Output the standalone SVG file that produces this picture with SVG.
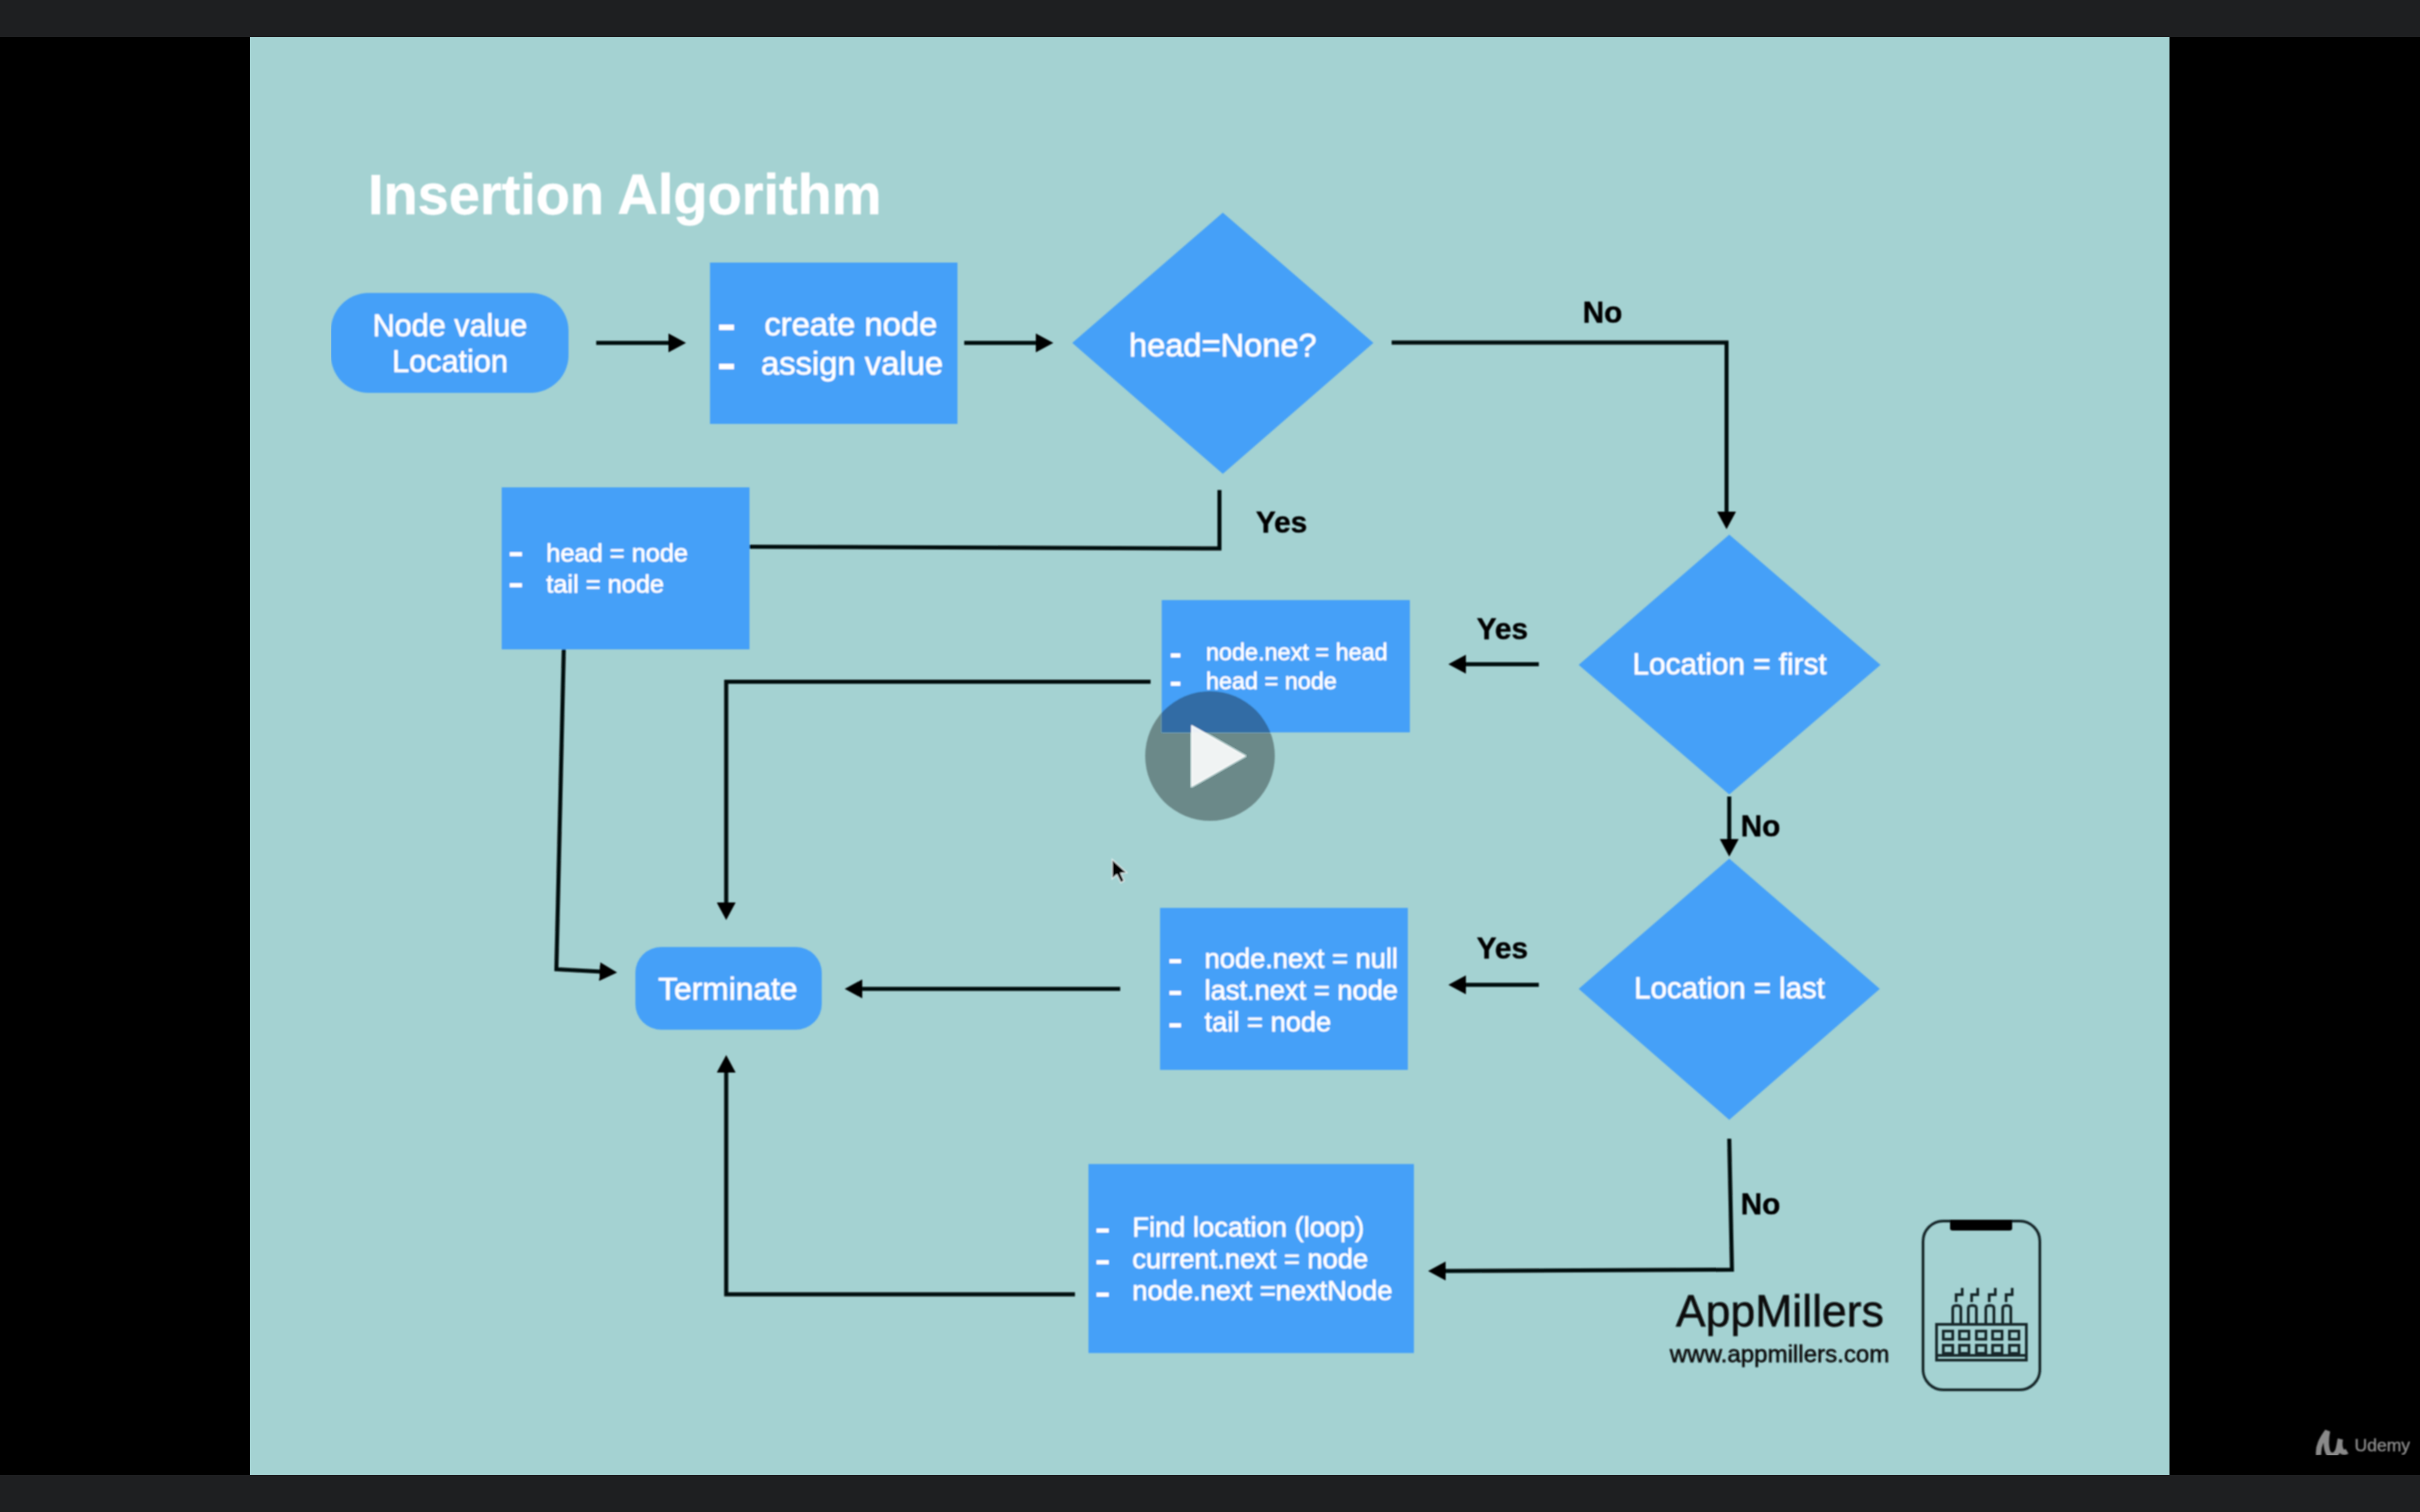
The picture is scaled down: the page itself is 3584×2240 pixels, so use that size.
<svg xmlns="http://www.w3.org/2000/svg" width="3584" height="2240" viewBox="0 0 3584 2240">
<style>
text{font-family:"Liberation Sans",Arial,sans-serif}
.b{fill:#45a0f8}
.w{fill:#fff;stroke:#fff;stroke-width:.8}
.m{text-anchor:middle}
.k{fill:#000;stroke:#000;stroke-width:.6;font-weight:700;font-size:44px}
.c{fill:none;stroke:#050a0a;stroke-width:6}
.h{fill:#fff;stroke:#fff;stroke-width:.8;font-size:48.5px}
.s{fill:#fff;stroke:#fff;stroke-width:.8;font-size:40.4px}
.i{fill:none;stroke:#14282b;stroke-width:4}
.d{fill:#fff}
.n{fill:#0a0f10;stroke:#0a0f10;stroke-width:.8;text-anchor:middle}
</style>
<defs>
<marker id="a" markerUnits="userSpaceOnUse" markerWidth="26" markerHeight="28" refX="12" refY="14" orient="auto"><path d="M0 0L26 14L0 28Z" fill="#000"/></marker>
<filter id="soft" x="0" y="0" width="100%" height="100%"><feGaussianBlur stdDeviation="1"/></filter>
</defs>
<rect width="3584" height="2240" fill="#000"/>
<rect width="3584" height="55" fill="#1e1f21"/>
<rect y="2185" width="3584" height="55" fill="#1e1f21"/>
<rect x="370" y="55" width="2843" height="2130" fill="#a4d2d2"/>
<g filter="url(#soft)">
<text x="545" y="317" font-size="82.800" font-weight="700" fill="#fff" stroke="#fff" stroke-width=".8">Insertion Algorithm</text>
<g id="connectors">
<path class="c" d="M883 508H1002" marker-end="url(#a)"/>
<path class="c" d="M1428 508H1546" marker-end="url(#a)"/>
<path class="c" d="M2061 507.500H2557V770" marker-end="url(#a)"/>
<path class="c" d="M1806 726V812.500L1110 810"/>
<path class="c" d="M2279 984H2159" marker-end="url(#a)"/>
<path class="c" d="M1704 1010H1075.500V1349" marker-end="url(#a)"/>
<path class="c" d="M835 960L824 1436L900 1440" marker-end="url(#a)"/>
<path class="c" d="M2561 1180V1255" marker-end="url(#a)"/>
<path class="c" d="M2279 1459H2159" marker-end="url(#a)"/>
<path class="c" d="M1659 1465H1265" marker-end="url(#a)"/>
<path class="c" d="M2561 1687L2565 1881L2129 1883" marker-end="url(#a)"/>
<path class="c" d="M1592 1917.500H1075.500V1577" marker-end="url(#a)"/>
</g>
<g id="start">
<rect class="b" x="490" y="434" width="352" height="148" rx="56"/>
<text class="w m" x="666.500" y="498" font-size="45.300">Node value</text>
<text class="w m" x="666.500" y="551" font-size="45.300">Location</text>
</g>
<g id="create">
<rect class="b" x="1051.500" y="389" width="366.500" height="239"/>
<rect class="d" x="1065" y="481" width="22" height="8"/><rect class="d" x="1065" y="539" width="22" height="8"/>
<text class="h" x="1132" y="497">create node</text>
<text class="h" x="1127" y="555">assign value</text>
</g>
<g id="headNone">
<polygon class="b" points="1811,315 2034,508 1811,702 1588,508"/>
<text class="w m" x="1811" y="528" font-size="48.300">head=None?</text>
</g>
<g id="setHead">
<rect class="b" x="743" y="722" width="367" height="240"/>
<rect class="d" x="755" y="818" width="18" height="6"/><rect class="d" x="755" y="864" width="18" height="6"/>
<text class="w" x="809" y="832" font-size="37.600">head = node</text>
<text class="w" x="809" y="878" font-size="37.600">tail = node</text>
</g>
<g id="first">
<polygon class="b" points="2561,792 2785,985 2561,1177 2338,985"/>
<text class="w m" x="2561.500" y="999" font-size="44">Location = first</text>
</g>
<g id="insertFirst">
<rect class="b" x="1720.500" y="889" width="367.500" height="196"/>
<rect class="d" x="1734" y="968" width="14" height="6"/><rect class="d" x="1734" y="1010" width="14" height="6"/>
<text class="w" x="1786" y="978" font-size="34.700">node.next = head</text>
<text class="w" x="1786" y="1021" font-size="34.700">head = node</text>
</g>
<g id="last">
<polygon class="b" points="2561,1272 2784,1465 2561,1659 2338,1465"/>
<text class="w m" x="2561.500" y="1479" font-size="43.600">Location = last</text>
</g>
<g id="insertLast">
<rect class="b" x="1718" y="1345" width="367" height="240"/>
<rect class="d" x="1732" y="1421" width="17" height="6"/><rect class="d" x="1732" y="1468" width="17" height="6"/><rect class="d" x="1732" y="1516" width="17" height="6"/>
<text class="s" x="1784" y="1434">node.next = null</text>
<text class="s" x="1784" y="1481">last.next = node</text>
<text class="s" x="1784" y="1527.500">tail = node</text>
</g>
<g id="terminate">
<rect class="b" x="941" y="1403" width="276" height="122.500" rx="38"/>
<text class="w m" x="1078" y="1481" font-size="47">Terminate</text>
</g>
<g id="insertMiddle">
<rect class="b" x="1612" y="1724.500" width="482" height="280"/>
<rect class="d" x="1624" y="1820" width="18" height="6"/><rect class="d" x="1624" y="1867" width="18" height="6"/><rect class="d" x="1624" y="1915" width="18" height="6"/>
<text class="s" x="1677" y="1832">Find location (loop)</text>
<text class="s" x="1677" y="1879">current.next = node</text>
<text class="s" x="1677" y="1926">node.next =nextNode</text>
</g>
<g id="labels">
<text class="k" x="2344" y="478">No</text>
<text class="k" x="1860" y="789">Yes</text>
<text class="k" x="2187" y="947">Yes</text>
<text class="k" x="2578" y="1239">No</text>
<text class="k" x="2187" y="1420">Yes</text>
<text class="k" x="2578" y="1799">No</text>
</g>
<g id="brand">
<text class="n" x="2636" y="1965" font-size="66">AppMillers</text>
<text class="n" x="2635.500" y="2018" font-size="35.700">www.appmillers.com</text>
<rect class="i" x="2848" y="1809" width="173" height="250" rx="30"/>
<path d="M2888 1807H2980V1820Q2980 1823 2976 1823H2892Q2888 1823 2888 1820Z" fill="#000"/>
<rect class="i" x="2868" y="1962" width="133" height="53"/>
<path class="i" d="M2870 2008H2999"/>
<g class="i" stroke-width="5">
<rect x="2878" y="1972" width="14" height="12"/><rect x="2902" y="1972" width="14" height="12"/><rect x="2927" y="1972" width="14" height="12"/><rect x="2951" y="1972" width="14" height="12"/><rect x="2976" y="1972" width="14" height="12"/>
<rect x="2878" y="1993" width="14" height="12"/><rect x="2902" y="1993" width="14" height="12"/><rect x="2927" y="1993" width="14" height="12"/><rect x="2951" y="1993" width="14" height="12"/><rect x="2976" y="1993" width="14" height="12"/>
<path d="M2892 1962V1938Q2892 1934 2898 1934Q2904 1934 2904 1938V1962"/>
<path d="M2915 1962V1938Q2915 1934 2921 1934Q2927 1934 2927 1938V1962"/>
<path d="M2941 1962V1938Q2941 1934 2947 1934Q2953 1934 2953 1938V1962"/>
<path d="M2966 1962V1938Q2966 1934 2972 1934Q2978 1934 2978 1938V1962"/>
<path d="M2897 1929V1918H2906V1908"/><path d="M2920 1929V1918H2929V1908"/><path d="M2946 1929V1918H2955V1908"/><path d="M2971 1929V1918H2980V1908"/>
</g>
</g>
<g id="player">
<circle cx="1792" cy="1120" r="96" fill="#0c0c0c" fill-opacity=".35"/>
<path d="M1765 1075L1844 1120L1765 1165Z" fill="#fff" fill-opacity=".9" stroke="#fff" stroke-opacity=".9" stroke-width="2" stroke-linejoin="round"/>
<path d="M1647 1273V1302L1654 1296L1660 1308L1665 1305L1660 1294L1669 1293Z" fill="#000" stroke="#e8f0f0" stroke-width="1.500"/>
<path d="M3434 2156C3432 2140 3442 2128 3447 2120C3444 2135 3444 2156 3454 2156C3464 2156 3464 2140 3466 2132C3464 2142 3466 2156 3476 2150" fill="none" stroke="#8a8a8a" stroke-width="8"/>
<text x="3487" y="2150" font-size="26" fill="#8a8a8a" stroke="#8a8a8a" stroke-width=".6">Udemy</text>
</g>
</g>
</svg>
